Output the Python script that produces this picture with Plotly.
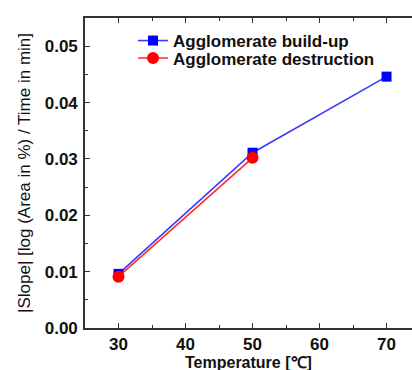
import plotly.graph_objects as go

temps_buildup = [30, 50, 70]
slope_buildup = [0.0096, 0.0311, 0.0446]
temps_destruction = [30, 50]
slope_destruction = [0.0091, 0.0302]

x_ticks = [30, 40, 50, 60, 70]
y_ticks = [0.00, 0.01, 0.02, 0.03, 0.04, 0.05]
y_tick_labels = ["0.00", "0.01", "0.02", "0.03", "0.04", "0.05"]
x_title = "Temperature [℃]"
y_title = "|Slope| [log (Area in %) / Time in min]"

FONT = "Liberation Sans, Arial, sans-serif"

PL, PR, PT, PB = 85, 412, 18, 328  # plot area in pixels


def px_x(p):
    return (p - PL) / (PR - PL)


def px_y(p):
    return 1 - (p - PT) / (PB - PT)


fig = go.Figure()
fig.add_trace(go.Scatter(
    x=temps_buildup, y=slope_buildup, mode="lines+markers",
    name="<b>Agglomerate build-up</b>",
    line=dict(color="#3a3aff", width=1.6),
    marker=dict(symbol="square", size=10, color="#0000ff"),
    legend="legend",
))
fig.add_trace(go.Scatter(
    x=temps_destruction, y=slope_destruction, mode="lines+markers",
    name="<b>Agglomerate destruction</b>",
    line=dict(color="#ff2a2a", width=1.6),
    marker=dict(symbol="circle", size=12, color="#ff0000"),
    legend="legend2",
))

axis_common = dict(
    showline=True, linecolor="#333333", linewidth=1.6,
    ticks="inside", tickcolor="#333333", tickwidth=1.4, ticklen=5,
    showgrid=False, zeroline=False,
    tickfont=dict(family=FONT, size=17, color="#111111", weight="bold"),
)

legend_common = dict(bgcolor="rgba(0,0,0,0)", borderwidth=0,
                     xanchor="left", yanchor="middle",
                     font=dict(family=FONT, size=17, color="#111111"))

fig.update_layout(
    width=412, height=370,
    margin=dict(l=PL, r=0, t=PT, b=370 - PB, autoexpand=False),
    plot_bgcolor="white", paper_bgcolor="white",
    showlegend=True,
    legend=dict(x=px_x(133), y=px_y(41), **legend_common),
    legend2=dict(x=px_x(133), y=px_y(58.5), **legend_common),
    xaxis=dict(
        range=[25, 73.8], tickvals=x_ticks, mirror="ticks",
        minor=dict(ticks="inside", ticklen=3, tickcolor="#333333", dtick=5, tick0=25),
        **axis_common,
    ),
    yaxis=dict(
        range=[0, 0.055], tickvals=y_ticks, ticktext=y_tick_labels,
        ticklabelstandoff=2,
        minor=dict(ticks="inside", ticklen=3, tickcolor="#333333", dtick=0.005, tick0=0),
        title=dict(text=y_title, standoff=10,
                   font=dict(family=FONT, size=17, color="#111111")),
        **axis_common,
    ),
    annotations=[dict(
        text="<b>" + x_title + "</b>", xref="paper", yref="paper",
        x=px_x(248), y=px_y(362), xanchor="center", yanchor="middle",
        showarrow=False, font=dict(family=FONT, size=16, color="#111111"),
    )],
)

fig.write_html("out.html")
